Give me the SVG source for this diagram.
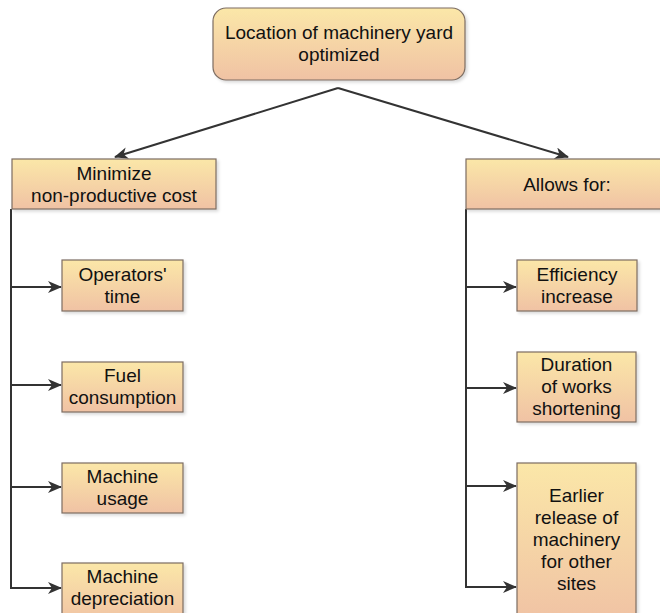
<svg xmlns="http://www.w3.org/2000/svg" width="660" height="613" viewBox="0 0 660 613">
<defs>
<linearGradient id="g" x1="0" y1="0" x2="0" y2="1">
<stop offset="0" stop-color="#fbe7a8"/>
<stop offset="1" stop-color="#f0c2a4"/>
</linearGradient>
<filter id="sh" x="-10%" y="-10%" width="130%" height="130%">
<feDropShadow dx="2" dy="2" stdDeviation="1.5" flood-color="#000" flood-opacity="0.15"/>
</filter>
<marker id="ah" viewBox="0 0 14 12" refX="13" refY="6" markerWidth="14" markerHeight="12" markerUnits="userSpaceOnUse" orient="auto">
<path d="M0,0 L14,6 L0,12 L4,6 Z" fill="#333"/>
</marker>
</defs>
<style>
.box{fill:url(#g);stroke:#7d6d62;stroke-width:1.2;filter:url(#sh)}
text{font-family:"Liberation Sans",Arial,sans-serif;font-size:19px;fill:#111;text-anchor:middle}
.c{fill:none;stroke:#333;stroke-width:2}
</style>
<rect width="660" height="613" fill="#fff"/>
<g id="connectors">
<path class="c" d="M338,88 L115,157" marker-end="url(#ah)"/>
<path class="c" d="M338,88 L568,157" marker-end="url(#ah)"/>
<path class="c" d="M11,209 L11,588"/>
<path class="c" d="M11,287 L61,287" marker-end="url(#ah)"/>
<path class="c" d="M11,385 L61,385" marker-end="url(#ah)"/>
<path class="c" d="M11,487 L61,487" marker-end="url(#ah)"/>
<path class="c" d="M10,588 L61,588" marker-end="url(#ah)"/>
<path class="c" d="M466,209 L466,588"/>
<path class="c" d="M466,287 L516,287" marker-end="url(#ah)"/>
<path class="c" d="M466,388 L516,388" marker-end="url(#ah)"/>
<path class="c" d="M466,486 L516,486" marker-end="url(#ah)"/>
<path class="c" d="M465,587 L516,587" marker-end="url(#ah)"/>
</g>
<g id="top">
<rect class="box" x="213" y="8" width="252" height="72" rx="13"/>
<text x="339" y="39">Location of machinery yard</text>
<text x="339" y="61">optimized</text>
</g>
<g id="minimize">
<rect class="box" x="12" y="159" width="204" height="50"/>
<text x="114" y="180">Minimize</text>
<text x="114" y="202">non-productive cost</text>
</g>
<g id="allows">
<rect class="box" x="466" y="159" width="204" height="50"/>
<text x="567" y="191">Allows for:</text>
</g>
<g id="operators">
<rect class="box" x="62" y="260" width="121" height="51"/>
<text x="122.5" y="281">Operators'</text>
<text x="122.5" y="303">time</text>
</g>
<g id="fuel">
<rect class="box" x="62" y="362" width="121" height="50"/>
<text x="122.5" y="382">Fuel</text>
<text x="122.5" y="404">consumption</text>
</g>
<g id="usage">
<rect class="box" x="62" y="463" width="121" height="50"/>
<text x="122.5" y="483">Machine</text>
<text x="122.5" y="505">usage</text>
</g>
<g id="depreciation">
<rect class="box" x="62" y="563" width="121" height="60"/>
<text x="122.5" y="583">Machine</text>
<text x="122.5" y="605">depreciation</text>
</g>
<g id="efficiency">
<rect class="box" x="517" y="260" width="120" height="51"/>
<text x="577" y="281">Efficiency</text>
<text x="577" y="303">increase</text>
</g>
<g id="duration">
<rect class="box" x="517" y="352" width="119" height="70"/>
<text x="576.5" y="371">Duration</text>
<text x="576.5" y="393">of works</text>
<text x="576.5" y="415">shortening</text>
</g>
<g id="earlier">
<rect class="box" x="517" y="463" width="119" height="160"/>
<text x="576.5" y="502">Earlier</text>
<text x="576.5" y="524">release of</text>
<text x="576.5" y="546">machinery</text>
<text x="576.5" y="568">for other</text>
<text x="576.5" y="590">sites</text>
</g>
</svg>
